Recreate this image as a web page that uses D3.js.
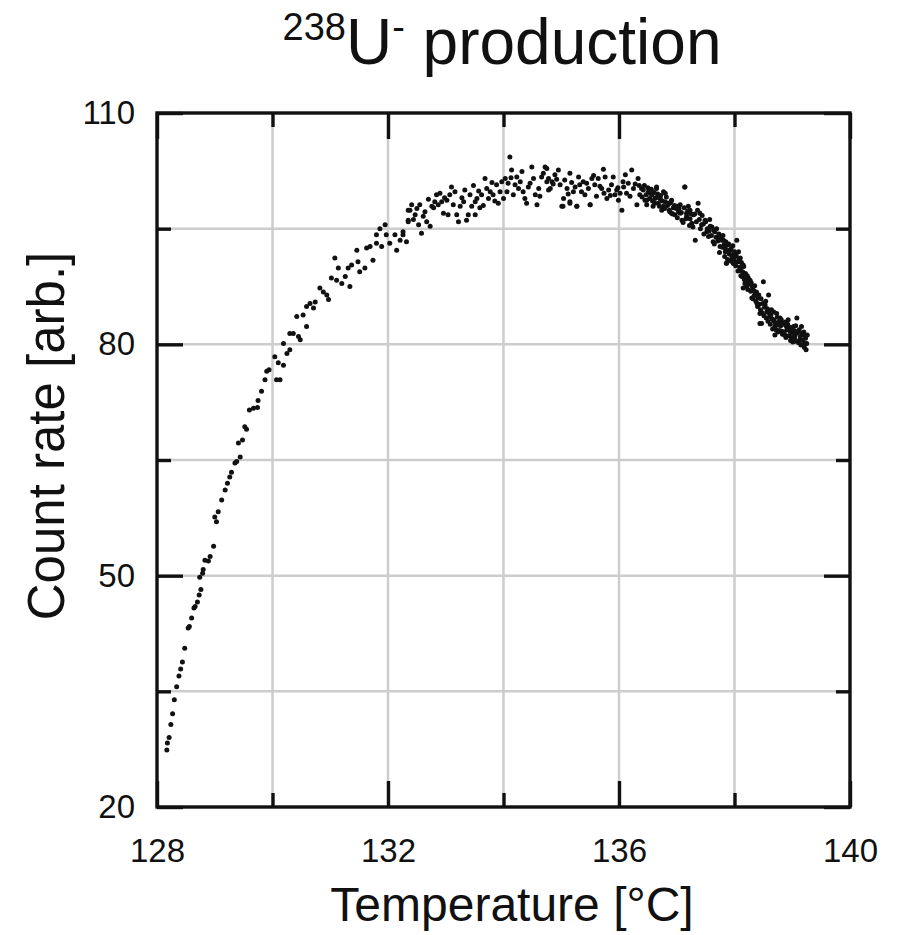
<!DOCTYPE html>
<html>
<head>
<meta charset="utf-8">
<script src="https://cdn.jsdelivr.net/npm/d3@7"></script>
<style>
  body { margin: 0; background: #fff; }
  text { font-family: "Liberation Sans", Arial, sans-serif; fill: #111; }
</style>
</head>
<body>
<svg id="chart"></svg>
<script>
let temperature = [
  128.17,128.18,128.21,128.24,128.27,128.30,128.34,128.38,128.41,128.44,
  128.48,128.54,128.56,128.60,128.64,128.66,128.70,128.73,128.76,128.74,
  128.79,128.80,128.83,128.89,128.92,128.98,129.00,129.03,129.06,129.12,
  129.18,129.22,129.26,129.29,129.35,129.38,129.44,129.41,129.48,129.52,
  129.55,129.60,129.67,129.74,129.75,129.81,129.87,129.90,129.94,130.04,
  130.07,130.13,130.10,130.19,130.19,130.25,130.30,130.30,130.36,130.45,
  130.48,130.42,130.53,130.59,130.59,130.65,130.74,130.71,130.82,130.88,
  130.97,130.94,131.02,131.11,131.08,131.14,131.20,131.26,131.34,131.31,
  131.37,131.46,131.48,131.51,131.60,131.63,131.69,131.74,131.80,131.80,
  131.86,131.95,131.89,131.97,132.03,132.15,132.12,132.21,132.26,132.32,
  132.35,132.35,
  132.26,132.35,132.38,132.41,132.47,132.53,132.55,132.58,132.61,132.67,
  132.73,132.76,132.79,132.84,132.81,132.87,132.90,132.93,132.96,133.02,
  133.04,133.07,133.10,133.13,133.19,133.22,133.25,133.31,133.33,133.36,
  133.39,133.42,133.45,133.51,133.51,133.54,133.59,133.62,133.68,133.71,
  133.74,133.77,133.82,133.88,133.91,133.94,133.97,134.00,134.03,134.06,
  134.11,134.14,134.17,134.20,134.23,134.26,134.29,134.34,134.37,134.40,
  134.43,134.49,134.52,134.55,134.58,134.61,134.66,134.72,134.75,
  132.44,132.50,132.64,132.70,132.98,133.16,133.28,133.48,133.57,133.65,
  133.80,133.85,134.08,134.13,134.32,134.46,134.63,134.69,134.78,
  135.03,135.15,135.27,135.50,
  134.75,134.78,134.81,134.84,134.89,134.95,134.98,135.01,135.04,135.10,
  135.15,135.15,135.21,135.27,135.30,135.32,135.38,135.41,135.47,135.50,
  135.53,135.58,135.61,135.64,135.70,135.73,135.76,135.79,135.82,135.87,
  135.90,135.93,135.96,135.99,136.05,136.08,136.11,136.13,136.16,136.22,
  136.25,136.31,136.33,136.36,136.39,136.45,136.48,136.51,136.57,136.59,
  136.62,136.65,136.68,136.71,136.74,136.77,136.80,136.86,136.88,136.91,
  136.94,136.97,137.03,137.06,137.09,137.14,137.17,137.20,137.23,137.26,
  137.29,
  134.86,134.92,135.06,135.12,135.18,135.24,135.35,135.44,135.56,135.67,
  135.74,135.85,135.98,136.02,136.07,136.19,136.28,136.35,
  136.42,136.48,136.54,136.62,136.65,136.71,136.77,136.80,136.88,136.91,
  137.00,137.06,137.14,137.17,137.23,137.26,137.37,137.40,137.43,137.32,
  137.49,137.52,137.55,137.58,137.63,137.66,137.72,137.75,137.81,137.84,
  137.86,137.89,137.95,137.98,138.04,138.07,138.10,138.13,138.15,138.18,
  136.40,136.44,136.47,136.50,136.53,136.56,136.58,136.61,136.64,136.67,
  136.70,136.72,136.75,136.79,136.82,136.84,136.87,136.90,136.93,136.96,
  136.99,137.01,137.04,137.08,137.11,137.13,137.16,137.19,137.22,137.25,
  137.28,
  137.78,137.86,137.98,137.84,137.92,138.01,138.07,138.10,138.15,138.13,
  138.18,138.15,138.21,138.27,138.30,138.33,138.36,138.39,138.41,138.44,
  138.47,138.50,138.53,138.56,138.59,138.61,138.64,138.67,138.70,138.73,
  138.76,138.79,138.82,138.84,138.87,138.90,138.93,138.96,138.99,139.02,
  139.05,139.08,139.10,139.13,139.16,139.19,139.22,139.24,139.26,138.70,
  138.44,
  137.31,137.34,137.36,137.39,137.41,137.44,137.46,137.47,137.50,137.53,
  137.56,137.57,137.60,137.61,137.64,137.65,137.68,137.69,137.71,137.73,
  137.74,137.76,137.79,137.80,137.82,137.83,137.85,137.87,137.88,137.90,
  137.91,137.93,137.94,137.96,137.97,137.99,138.00,138.02,138.03,138.05,
  138.06,138.08,138.09,138.11,138.12,138.14,138.16,138.17,138.19,138.20,
  138.22,138.23,138.24,138.25,138.28,138.29,138.31,138.32,138.34,138.35,
  138.37,138.38,138.40,138.42,138.43,138.45,138.46,138.48,138.49,138.51,
  138.52,138.54,138.55,138.57,138.58,138.60,138.62,138.63,138.65,138.66,
  138.68,138.69,138.71,138.72,138.74,138.75,138.77,138.78,138.80,138.81,
  138.83,138.85,138.86,138.88,138.89,138.91,138.92,138.94,138.95,138.97,
  138.98,139.00,139.01,139.03,139.04,139.06,139.07,139.09,139.11,139.12,
  139.14,139.15,139.17,139.18,139.20,139.21,139.23,139.25
]

let countRate = [
  27.4,28.3,29.0,30.7,32.1,33.9,35.6,37.0,37.9,38.8,
  40.6,43.2,43.4,44.5,45.8,46.0,46.6,47.5,48.2,49.8,
  50.3,50.8,52.0,51.9,52.5,53.8,57.6,57.0,58.3,59.8,
  61.1,62.0,62.8,63.4,64.6,64.8,65.4,67.2,67.6,69.3,
  69.0,71.5,71.7,71.8,72.7,73.9,75.4,76.5,76.7,78.4,
  75.4,75.4,77.6,77.3,80.1,78.8,79.3,81.4,81.4,81.0,
  80.6,83.6,83.8,82.3,84.9,85.3,85.5,84.7,87.3,86.8,
  85.8,86.4,88.6,88.3,91.2,89.9,87.9,88.8,87.5,89.9,
  90.3,92.2,90.7,89.4,89.9,92.5,92.7,90.9,93.1,94.2,
  95.0,95.5,92.7,94.2,93.1,92.2,94.2,93.5,94.2,93.3,
  96.1,97.4,
  94.6,95.9,97.4,98.1,96.8,95.5,98.1,94.4,96.6,95.9,
  95.3,97.9,97.7,99.4,98.5,98.1,99.6,98.5,97.0,98.7,
  96.8,99.4,100.4,98.1,96.8,95.9,97.9,98.5,100.0,96.1,
  96.8,99.4,97.9,98.5,96.8,98.9,97.7,99.4,101.5,100.2,
  98.9,99.8,99.4,100.7,98.3,99.8,101.1,98.9,101.5,99.8,
  104.3,102.6,99.4,100.7,101.7,100.2,101.1,99.8,98.9,98.3,
  100.4,103.0,101.5,99.4,98.1,100.2,101.7,103.0,101.1,
  96.2,97.6,97.2,98.8,99.0,99.8,99.0,100.6,99.9,98.0,
  101.0,98.6,100.9,101.6,102.4,100.9,99.2,102.2,100.0,
  97.9,98.5,97.9,98.1,
  102.8,101.5,100.2,101.1,102.0,102.6,100.7,97.9,98.9,100.2,
  102.2,98.3,99.8,97.9,101.7,100.7,101.1,99.4,100.2,98.1,
  101.5,100.7,99.2,101.5,100.2,102.7,101.7,98.9,100.0,100.7,
  101.7,99.4,100.0,98.7,97.4,100.4,102.0,99.6,100.9,102.6,
  100.2,98.1,101.5,99.4,100.2,98.7,98.1,99.8,99.4,97.9,
  98.9,100.2,98.3,98.9,97.4,99.8,98.5,98.3,97.2,98.7,
  97.7,96.8,97.2,98.1,96.1,100.4,97.0,97.9,96.3,95.5,
  96.8,
  100.8,101.4,101.3,99.5,101.0,100.4,99.8,100.9,101.9,100.5,
  99.6,99.3,100.3,99.6,101.1,99.2,100.8,100.6,
  100.0,98.7,99.6,98.3,100.4,98.9,97.9,99.6,98.3,97.0,
  97.9,97.0,100.4,96.6,97.4,95.7,98.3,97.0,95.5,93.5,
  96.1,94.6,94.0,95.3,93.3,94.6,94.0,92.7,93.5,92.0,
  90.5,92.9,91.6,90.5,93.5,92.0,91.2,90.1,88.8,87.9,
  99.1,100.6,99.4,100.3,98.9,100.1,98.6,99.7,99.0,99.5,
  97.9,99.3,98.6,97.6,99.1,98.0,97.4,98.5,96.9,98.0,
  97.6,96.4,97.6,97.1,95.8,97.7,96.3,97.3,95.4,96.9,
  95.2,
  93.5,90.5,90.5,92.5,92.2,91.4,90.7,89.6,90.3,88.8,
  88.6,87.3,87.5,88.3,86.0,87.0,86.6,85.3,86.0,84.0,
  82.7,88.1,85.1,84.2,86.4,83.6,84.5,83.2,82.3,84.0,
  82.5,83.4,81.7,82.7,81.2,82.3,83.2,81.7,80.8,82.3,
  81.2,83.4,81.7,80.6,82.3,81.2,80.1,79.3,81.2,81.2,
  82.7,
  96.9,95.9,97.4,96.2,95.0,96.7,95.6,94.3,95.9,95.0,
  94.7,96.2,94.1,95.2,94.8,93.0,93.9,95.0,93.4,94.3,
  91.9,93.8,92.6,94.1,92.9,91.4,93.3,92.2,91.0,93.0,
  91.7,90.8,92.4,91.3,92.8,90.9,92.0,90.2,91.6,90.7,
  89.5,91.1,90.0,88.9,90.6,89.4,90.1,88.4,89.2,88.1,
  88.9,87.1,88.6,87.8,86.9,88.0,87.4,85.9,86.3,87.6,
  85.6,86.8,84.9,86.4,85.2,84.5,85.9,84.1,85.3,83.7,
  84.8,85.6,83.4,84.6,83.0,84.1,82.6,83.8,83.3,82.0,
  84.2,83.0,82.7,81.9,83.5,81.6,82.9,81.8,82.4,83.2,
  81.3,82.6,81.6,82.9,80.9,81.9,82.6,81.1,82.2,80.5,
  82.0,81.4,80.3,81.8,80.9,82.4,80.4,81.5,80.2,81.9,
  81.0,79.9,81.4,80.5,81.6,79.6,80.8,80.1
]

// axis ticks
let xMajorTicks = [128, 132, 136, 140]
let xMinorTicks = [130, 134, 138]
let yMajorTicks = [20, 50, 80, 110]
let yMinorTicks = [35, 65, 95]

let width = 906
let height = 935
let plotLeft = 157
let plotRight = 850
let plotTop = 113
let plotBottom = 807

let svg = d3.select('#chart')
    .attr('width', width)
    .attr('height', height)

let xScale = d3.scaleLinear()
    .domain([128, 140])
    .range([plotLeft, plotRight])

let yScale = d3.scaleLinear()
    .domain([20, 110])
    .range([plotBottom, plotTop])

// grid lines
svg.append('g')
    .selectAll('line')
    .data(xMinorTicks.concat([132, 136]))
    .enter()
    .append('line')
    .attr('x1', d => xScale(d))
    .attr('x2', d => xScale(d))
    .attr('y1', plotTop)
    .attr('y2', plotBottom)
    .attr('stroke', '#cdcdcd')
    .attr('stroke-width', 2.5)

svg.append('g')
    .selectAll('line')
    .data(yMinorTicks.concat([50, 80]))
    .enter()
    .append('line')
    .attr('x1', plotLeft)
    .attr('x2', plotRight)
    .attr('y1', d => yScale(d))
    .attr('y2', d => yScale(d))
    .attr('stroke', '#cdcdcd')
    .attr('stroke-width', 2.5)

// points
let points = temperature.map((t, i) => ({ t: t, c: countRate[i] }))

svg.append('g')
    .selectAll('circle')
    .data(points)
    .enter()
    .append('circle')
    .attr('cx', d => xScale(d.t))
    .attr('cy', d => yScale(d.c))
    .attr('r', 2.5)
    .attr('fill', '#111')

// inward ticks on all four sides
let addAxis = (axis, tx, ty, cls) => {
    let g = svg.append('g')
        .attr('class', cls)
        .attr('transform', 'translate(' + tx + ',' + ty + ')')
        .call(axis)
    g.select('.domain').remove()
    g.selectAll('line').attr('stroke', '#111').style('stroke-width', '3.4px')
    g.selectAll('text')
        .style('font-size', '33px')
        .style('font-family', '"Liberation Sans", Arial, sans-serif')
        .attr('fill', '#111')
    return g
}

let noLabel = () => ''

addAxis(d3.axisBottom(xScale).tickValues(xMajorTicks).tickSize(-26).tickPadding(32).tickFormat(d3.format('d')), 0, plotBottom, 'x-axis')
addAxis(d3.axisBottom(xScale).tickValues(xMinorTicks).tickSize(-14).tickFormat(noLabel), 0, plotBottom, 'x-minor')
addAxis(d3.axisTop(xScale).tickValues(xMajorTicks).tickSize(-26).tickFormat(noLabel), 0, plotTop, 'x-top')
addAxis(d3.axisTop(xScale).tickValues(xMinorTicks).tickSize(-14).tickFormat(noLabel), 0, plotTop, 'x-top-minor')

addAxis(d3.axisLeft(yScale).tickValues(yMajorTicks).tickSize(-26).tickPadding(22).tickFormat(d3.format('d')), plotLeft, 0, 'y-axis')
addAxis(d3.axisLeft(yScale).tickValues(yMinorTicks).tickSize(-14).tickFormat(noLabel), plotLeft, 0, 'y-minor')
addAxis(d3.axisRight(yScale).tickValues(yMajorTicks).tickSize(-26).tickFormat(noLabel), plotRight, 0, 'y-right')
addAxis(d3.axisRight(yScale).tickValues(yMinorTicks).tickSize(-14).tickFormat(noLabel), plotRight, 0, 'y-right-minor')

// frame
svg.append('rect')
    .attr('x', plotLeft)
    .attr('y', plotTop)
    .attr('width', plotRight - plotLeft)
    .attr('height', plotBottom - plotTop)
    .attr('fill', 'none')
    .attr('stroke', '#111')
    .attr('stroke-width', 3.4)

// title with superscripts
let title = svg.append('text')
    .attr('x', 502)
    .attr('y', 64)
    .attr('text-anchor', 'middle')
    .style('font-size', '64px')
title.append('tspan').style('font-size', '38px').attr('dy', -24).text('238')
title.append('tspan').attr('dy', 24).text('U')
title.append('tspan').style('font-size', '38px').attr('dy', -24).text('-')
title.append('tspan').attr('dy', 24).text(' production')

// axis titles
svg.append('text')
    .attr('x', 512)
    .attr('y', 921)
    .attr('text-anchor', 'middle')
    .style('font-size', '48px')
    .text('Temperature [°C]')

svg.append('text')
    .attr('transform', 'translate(64,' + 436 + ') rotate(-90)')
    .attr('text-anchor', 'middle')
    .style('font-size', '51px')
    .text('Count rate [arb.]')
</script>
</body>
</html>
